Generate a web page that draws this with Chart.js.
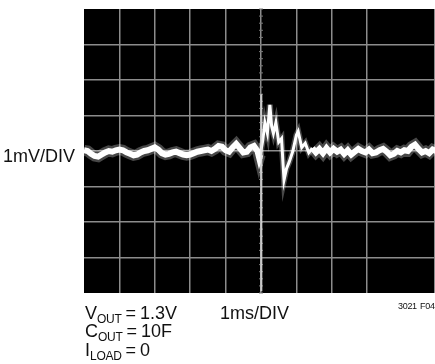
<!DOCTYPE html>
<html>
<head>
<meta charset="utf-8">
<script src="https://cdn.jsdelivr.net/npm/chart.js@4"></script>
<style>
  html, body { margin: 0; padding: 0; background: #fff; }
  #wrap { position: relative; width: 435px; height: 364px; overflow: hidden; }
  canvas { position: absolute; left: 0; top: 0; }
  .lbl { position: absolute; font-family: "Liberation Sans", Arial, sans-serif; font-size: 18px; color: #111; white-space: nowrap; line-height: 1; word-spacing: -1px; }
  .lbl sub { font-size: 12px; vertical-align: -4px; letter-spacing: -0.3px; }
  .small { font-size: 9px; letter-spacing: -0.3px; word-spacing: 1px; }
</style>
</head>
<body>
<div id="wrap">
  <canvas id="scope" width="435" height="364"></canvas>
  <div class="lbl" style="left:3px; top:147px;">1mV/DIV</div>
  <div class="lbl" style="left:85px; top:304px;">V<sub>OUT</sub> = 1.3V</div>
  <div class="lbl" style="left:85px; top:322px;">C<sub>OUT</sub> = 10F</div>
  <div class="lbl" style="left:85px; top:341px;">I<sub>LOAD</sub> = 0</div>
  <div class="lbl" style="left:220px; top:304px; word-spacing:0;">1ms/DIV</div>
  <div class="lbl small" style="left:398px; top:302px;">3021 F04</div>
</div>
<script>
// time axis in ms (1 ms per division), voltage in mV (1 mV per division)
const timeMs = [
  0.0, 0.1, 0.2, 0.3, 0.4, 0.5, 0.6, 0.7, 0.8, 0.9,
  1.0, 1.1, 1.2, 1.3, 1.4, 1.5, 1.6, 1.7, 1.8, 1.9,
  2.0, 2.1, 2.2, 2.3, 2.4, 2.5, 2.6, 2.7, 2.8, 2.9,
  3.0, 3.1, 3.2, 3.3, 3.4, 3.5, 3.6, 3.7, 3.8, 3.9,
  4.0, 4.1, 4.2, 4.3, 4.4, 4.5, 4.6, 4.7, 4.8, 4.9,
  4.95, 4.98, 5.05, 5.11, 5.18, 5.25, 5.3, 5.35,
  5.42, 5.5, 5.58, 5.65, 5.72, 5.8, 5.9, 6.0, 6.05, 6.15,
  6.25, 6.35, 6.45, 6.55, 6.65, 6.75, 6.85, 6.95, 7.05, 7.15,
  7.25, 7.35, 7.45, 7.55, 7.65, 7.75, 7.85, 7.95, 8.05, 8.15,
  8.25, 8.35, 8.45, 8.55, 8.65, 8.75, 8.85, 8.95, 9.05, 9.15,
  9.25, 9.35, 9.45, 9.55, 9.65, 9.75, 9.85, 9.95
];
const voutMv = [
  0.02, 0.0, -0.08, -0.14, -0.16, -0.1, -0.04, 0.0, -0.02, 0.02,
  0.04, 0.02, -0.04, -0.08, -0.12, -0.1, -0.04, 0.0, 0.02, 0.06,
  0.1, 0.04, -0.06, -0.1, -0.08, -0.04, -0.02, -0.06, -0.1, -0.12,
  -0.1, -0.06, -0.02, 0.0, 0.02, 0.04, 0.0, 0.06, 0.14, 0.12,
  0.02, -0.02, 0.1, 0.2, 0.08, -0.04, -0.02, 0.1, 0.14, 0.0,
  -0.2, -0.1, 0.3, 0.8, 0.5, 1.3, 0.7, 0.5,
  0.8, 0.25, 0.35, -0.82, -0.5, -0.3, 0.0, 0.45, 0.55, 0.1,
  0.22, -0.05, 0.08, -0.04, 0.06, -0.06, 0.08, -0.04, 0.06, -0.02,
  0.04, -0.08, 0.02, -0.1, -0.02, 0.06, 0.0, -0.04, 0.04, -0.06,
  -0.04, 0.02, 0.06, -0.02, -0.12, -0.08, 0.0, -0.04, 0.02, 0.0,
  0.12, 0.18, 0.06, -0.04, 0.0, -0.06, 0.04, 0.0
];
// fast switching spike at the load step
const spikeMs = [5.01, 5.01];
const spikeMv = [1.6, -3.95];
// window in which the trace is a thin fast transient
const transientMs = [4.97, 6.4];
const xDivs = [0, 9.915];
const yDivs = [-4, 4];

const trace = timeMs.map((t, i) => ({ x: t, y: voutMv[i] }));
const spike = spikeMs.map((t, i) => ({ x: t, y: spikeMv[i] }));
const inTransient = (c) => timeMs[c.p0DataIndex] >= transientMs[0] && timeMs[c.p0DataIndex] < transientMs[1];

// black screen behind the plot area
const screenBg = {
  id: 'screenBg',
  beforeDraw(chart) {
    const { ctx, chartArea: a } = chart;
    ctx.save();
    ctx.fillStyle = '#000';
    ctx.fillRect(a.left, a.top, a.right - a.left, a.bottom - a.top);
    ctx.restore();
  }
};

// small graticule marks on the centre vertical line
const centreTicks = {
  id: 'centreTicks',
  beforeDatasetsDraw(chart) {
    const { ctx, scales } = chart;
    const cx = scales.x.getPixelForValue(5);
    ctx.save();
    ctx.strokeStyle = '#7a7a7a';
    ctx.lineWidth = 1;
    for (let v = -4; v <= 4.001; v += 0.2) {
      const py = scales.y.getPixelForValue(v);
      ctx.beginPath();
      ctx.moveTo(cx - 2, py);
      ctx.lineTo(cx + 2, py);
      ctx.stroke();
    }
    ctx.restore();
  }
};

const gridColor = (c) => {
  const v = c.tick.value;
  return (v === 0 && c.scale.axis === 'x') || (Math.abs(v) === 4 && c.scale.axis === 'y') ? 'rgba(0,0,0,0)' : '#8c8c8c';
};

new Chart(document.getElementById('scope'), {
  type: 'line',
  data: {
    datasets: [
      {
        data: spike,
        borderColor: 'rgba(225,225,225,0.85)',
        borderWidth: 2,
        pointRadius: 0
      },
      {
        data: trace,
        borderColor: 'rgba(255,255,255,0.28)',
        borderWidth: 11,
        pointRadius: 0,
        tension: 0,
        segment: { borderWidth: c => inTransient(c) ? 6 : 11 }
      },
      {
        data: trace,
        borderColor: '#ffffff',
        borderWidth: 6,
        pointRadius: 0,
        tension: 0,
        segment: { borderWidth: c => inTransient(c) ? 3 : 6 }
      }
    ]
  },
  options: {
    responsive: false,
    animation: false,
    devicePixelRatio: 1,
    layout: { padding: { left: 84, top: 9, right: 0, bottom: 71 } },
    plugins: { legend: { display: false }, tooltip: { enabled: false } },
    scales: {
      x: {
        type: 'linear',
        min: xDivs[0],
        max: xDivs[1],
        ticks: { display: false, stepSize: 1 },
        grid: { color: gridColor, lineWidth: 1.5, drawTicks: false },
        border: { display: false }
      },
      y: {
        min: yDivs[0],
        max: yDivs[1],
        ticks: { display: false, stepSize: 1 },
        grid: { color: gridColor, lineWidth: 1.5, drawTicks: false },
        border: { display: false }
      }
    }
  },
  plugins: [screenBg, centreTicks]
});
</script>
</body>
</html>
